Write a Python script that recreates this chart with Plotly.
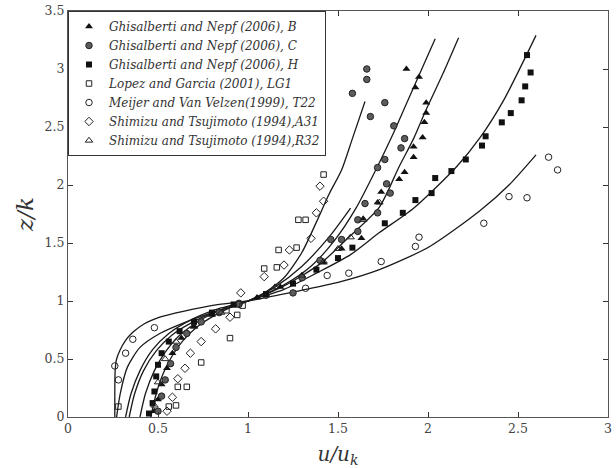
import plotly.graph_objects as go

# ---------------- data ----------------
x_ticks = [0, 0.5, 1, 1.5, 2, 2.5, 3]
x_tick_labels = ["0", "0.5", "1", "1.5", "2", "2.5", "3"]
y_ticks = [0, 0.5, 1, 1.5, 2, 2.5, 3, 3.5]
y_tick_labels = ["0", "0.5", "1", "1.5", "2", "2.5", "3", "3.5"]

series_names = [
    "Ghisalberti and Nepf (2006), B",
    "Ghisalberti and Nepf (2006), C",
    "Ghisalberti and Nepf (2006), H",
    "Lopez and Garcia (2001), LG1",
    "Meijer and Van Velzen(1999), T22",
    "Shimizu and Tsujimoto (1994),A31",
    "Shimizu and Tsujimoto (1994),R32",
]

gn_b_u = [0.48, 0.50, 0.52, 0.55, 0.58, 0.63, 0.70, 0.80, 0.92, 1.05, 1.18, 1.30, 1.42, 1.52, 1.63,
          1.64, 1.72, 1.74, 1.84, 1.87, 1.92, 1.92, 1.97, 1.98, 1.99, 1.99, 1.93, 1.95, 1.88]
gn_b_z = [0.05, 0.15, 0.28, 0.42, 0.55, 0.68, 0.78, 0.88, 0.96, 1.03, 1.12, 1.22, 1.33, 1.45, 1.54,
          1.71, 1.85, 1.94, 2.05, 2.11, 2.24, 2.33, 2.41, 2.54, 2.62, 2.71, 2.84, 2.93, 3.00]

gn_c_u = [0.50, 0.52, 0.54, 0.57, 0.60, 0.66, 0.74, 0.84, 0.95, 1.10, 1.25, 1.30, 1.40, 1.46, 1.52,
          1.61, 1.61, 1.72, 1.65, 1.79, 1.77, 1.72, 1.76, 1.85, 1.87, 1.81, 1.68, 1.76, 1.58, 1.66, 1.66]
gn_c_z = [0.05, 0.18, 0.32, 0.46, 0.60, 0.72, 0.82, 0.90, 0.98, 1.05, 1.07, 1.20, 1.35, 1.53, 1.53,
          1.60, 1.70, 1.76, 1.84, 1.93, 2.01, 2.15, 2.22, 2.32, 2.40, 2.51, 2.59, 2.71, 2.79, 2.91, 3.00]

gn_h_u = [0.45, 0.47, 0.48, 0.49, 0.50, 0.52, 0.56, 0.62, 0.70, 0.80, 0.92, 1.10, 1.25, 1.38, 1.50,
          1.58, 1.76, 1.86, 1.93, 2.02, 2.04, 2.13, 2.21, 2.30, 2.32, 2.41, 2.46, 2.52, 2.54, 2.57, 2.55]
gn_h_z = [0.03, 0.12, 0.22, 0.35, 0.45, 0.55, 0.65, 0.74, 0.82, 0.90, 0.97, 1.06, 1.15, 1.27, 1.37,
          1.46, 1.67, 1.76, 1.87, 1.93, 2.06, 2.12, 2.22, 2.34, 2.42, 2.54, 2.62, 2.73, 2.85, 2.97, 3.12]

lg1_u = [0.28, 0.56, 0.60, 0.61, 0.66, 0.74, 0.90, 0.94, 0.88, 0.97, 1.09, 1.16, 1.17, 1.27, 1.28, 1.32, 1.42]
lg1_z = [0.09, 0.09, 0.10, 0.26, 0.26, 0.47, 0.68, 0.88, 0.92, 0.96, 1.28, 1.29, 1.44, 1.46, 1.70, 1.70, 2.09]

t22_u = [0.26, 0.28, 0.32, 0.36, 0.48, 0.95, 1.32, 1.44, 1.56, 1.74, 1.93, 1.95, 2.31, 2.45, 2.55, 2.67, 2.72]
t22_z = [0.44, 0.32, 0.55, 0.67, 0.77, 0.97, 1.11, 1.22, 1.24, 1.34, 1.47, 1.55, 1.67, 1.90, 1.89, 2.24, 2.13]

a31_u = [0.55, 0.58, 0.61, 0.65, 0.68, 0.74, 0.82, 0.90, 0.96, 1.09, 1.20, 1.23, 1.35, 1.38, 1.42, 1.40]
a31_z = [0.05, 0.17, 0.33, 0.42, 0.55, 0.65, 0.76, 0.86, 1.07, 1.21, 1.31, 1.44, 1.54, 1.76, 1.86, 1.99]

r32_u = [0.48, 0.50, 0.54, 0.60, 0.70, 0.85, 1.15, 1.30, 1.42, 1.50, 1.57, 1.64, 1.73]
r32_z = [0.10, 0.30, 0.50, 0.65, 0.78, 0.90, 1.12, 1.22, 1.34, 1.45, 1.55, 1.70, 1.85]

# model curves
curve_a_u = [0.46, 0.49, 0.53, 0.58, 0.64, 0.72, 0.82, 0.91, 1.00, 1.10, 1.20, 1.30, 1.38, 1.45, 1.52, 1.58, 1.65]
curve_a_z = [0.00, 0.20, 0.38, 0.53, 0.66, 0.78, 0.88, 0.95, 1.00, 1.08, 1.20, 1.42, 1.68, 1.92, 2.13, 2.40, 2.72]
curve_f_u = [0.40, 0.43, 0.48, 0.54, 0.61, 0.70, 0.80, 0.90, 1.00, 1.15, 1.30, 1.45, 1.57]
curve_f_z = [0.00, 0.20, 0.40, 0.56, 0.69, 0.80, 0.89, 0.95, 1.00, 1.12, 1.30, 1.55, 1.80]
curve_b_u = [0.34, 0.37, 0.42, 0.49, 0.58, 0.72, 0.86, 1.00, 1.20, 1.35, 1.48, 1.60, 1.71, 1.80, 1.88, 1.96, 2.04]
curve_b_z = [0.00, 0.20, 0.40, 0.57, 0.71, 0.84, 0.93, 1.00, 1.14, 1.30, 1.52, 1.80, 2.13, 2.42, 2.70, 2.98, 3.26]
curve_c_u = [0.32, 0.35, 0.40, 0.47, 0.56, 0.70, 0.85, 1.00, 1.20, 1.40, 1.56, 1.73, 1.84, 1.92, 1.99, 2.08, 2.17]
curve_c_z = [0.00, 0.20, 0.40, 0.58, 0.72, 0.85, 0.94, 1.00, 1.13, 1.32, 1.55, 1.81, 2.16, 2.40, 2.65, 2.95, 3.27]
curve_d_u = [0.27, 0.29, 0.33, 0.40, 0.51, 0.64, 0.80, 1.00, 1.20, 1.38, 1.57, 1.73, 1.92, 2.16, 2.29, 2.42, 2.60]
curve_d_z = [0.00, 0.20, 0.43, 0.60, 0.72, 0.81, 0.90, 1.00, 1.10, 1.24, 1.40, 1.59, 1.80, 2.16, 2.41, 2.73, 3.29]
curve_e_u = [0.26, 0.26, 0.262, 0.27, 0.29, 0.32, 0.36, 0.42, 0.51, 0.64, 0.84, 1.00, 1.29, 1.50, 1.73, 2.01, 2.29, 2.45, 2.60]
curve_e_z = [0.00, 0.20, 0.40, 0.50, 0.58, 0.66, 0.73, 0.80, 0.86, 0.91, 0.97, 1.00, 1.09, 1.16, 1.27, 1.47, 1.78, 2.00, 2.26]

SERIF = "DejaVu Serif"

# ---------------- figure ----------------
fig = go.Figure()

curves = [(curve_a_u, curve_a_z), (curve_f_u, curve_f_z), (curve_b_u, curve_b_z),
          (curve_c_u, curve_c_z), (curve_d_u, curve_d_z), (curve_e_u, curve_e_z)]
for cu, cz in curves:
    fig.add_trace(go.Scatter(x=cu, y=cz, mode="lines", showlegend=False, hoverinfo="skip",
                             line=dict(color="#1a1a1a", width=1.3, shape="spline", smoothing=0.7)))

styles = [
    (gn_b_u, gn_b_z, dict(symbol="triangle-up", size=7, color="#111111", line=dict(width=0))),
    (gn_c_u, gn_c_z, dict(symbol="circle", size=6.5, color="#5c5c5c", line=dict(width=1, color="#222222"))),
    (gn_h_u, gn_h_z, dict(symbol="square", size=6, color="#111111", line=dict(width=0))),
    (lg1_u, lg1_z, dict(symbol="square-open", size=5.5, color="#222222", line=dict(width=1))),
    (t22_u, t22_z, dict(symbol="circle-open", size=6.5, color="#222222", line=dict(width=1))),
    (a31_u, a31_z, dict(symbol="diamond-open", size=6.5, color="#222222", line=dict(width=1))),
    (r32_u, r32_z, dict(symbol="triangle-up-open", size=6.5, color="#222222", line=dict(width=1))),
]
for name, (su, sz, mk) in zip(series_names, styles):
    fig.add_trace(go.Scatter(x=su, y=sz, mode="markers", name=name, marker=mk))

axis_common = dict(
    showgrid=False, zeroline=False, showline=True, linecolor="#555555", linewidth=1,
    mirror="ticks", ticks="inside", ticklen=5, tickcolor="#333333", automargin=False,
    tickfont=dict(family=SERIF, size=12.5, color="#444444"),
)

fig.update_layout(
    width=616, height=468,
    margin=dict(l=68, r=8, t=11, b=51),
    paper_bgcolor="white", plot_bgcolor="white",
    font=dict(family=SERIF, color="#333333"),
    xaxis=dict(range=[0, 3], tickvals=x_ticks, ticktext=x_tick_labels,
               title=dict(text="<i>u/u<sub>k</sub></i>", standoff=14,
                          font=dict(family=SERIF, size=20, color="#333333")),
               **axis_common),
    yaxis=dict(range=[0, 3.5], tickvals=y_ticks, ticktext=y_tick_labels,
               title=dict(text="<i>z/k</i>", standoff=4,
                          font=dict(family=SERIF, size=23, color="#333333")),
               **axis_common),
    legend=dict(x=0, y=1.0, xanchor="left", yanchor="top",
                bgcolor="white", bordercolor="#333333", borderwidth=1,
                font=dict(family=SERIF, size=12, color="#333333", style="italic"),
                tracegroupgap=0, itemwidth=30),
    showlegend=True,
)

fig.write_html("out.html")
